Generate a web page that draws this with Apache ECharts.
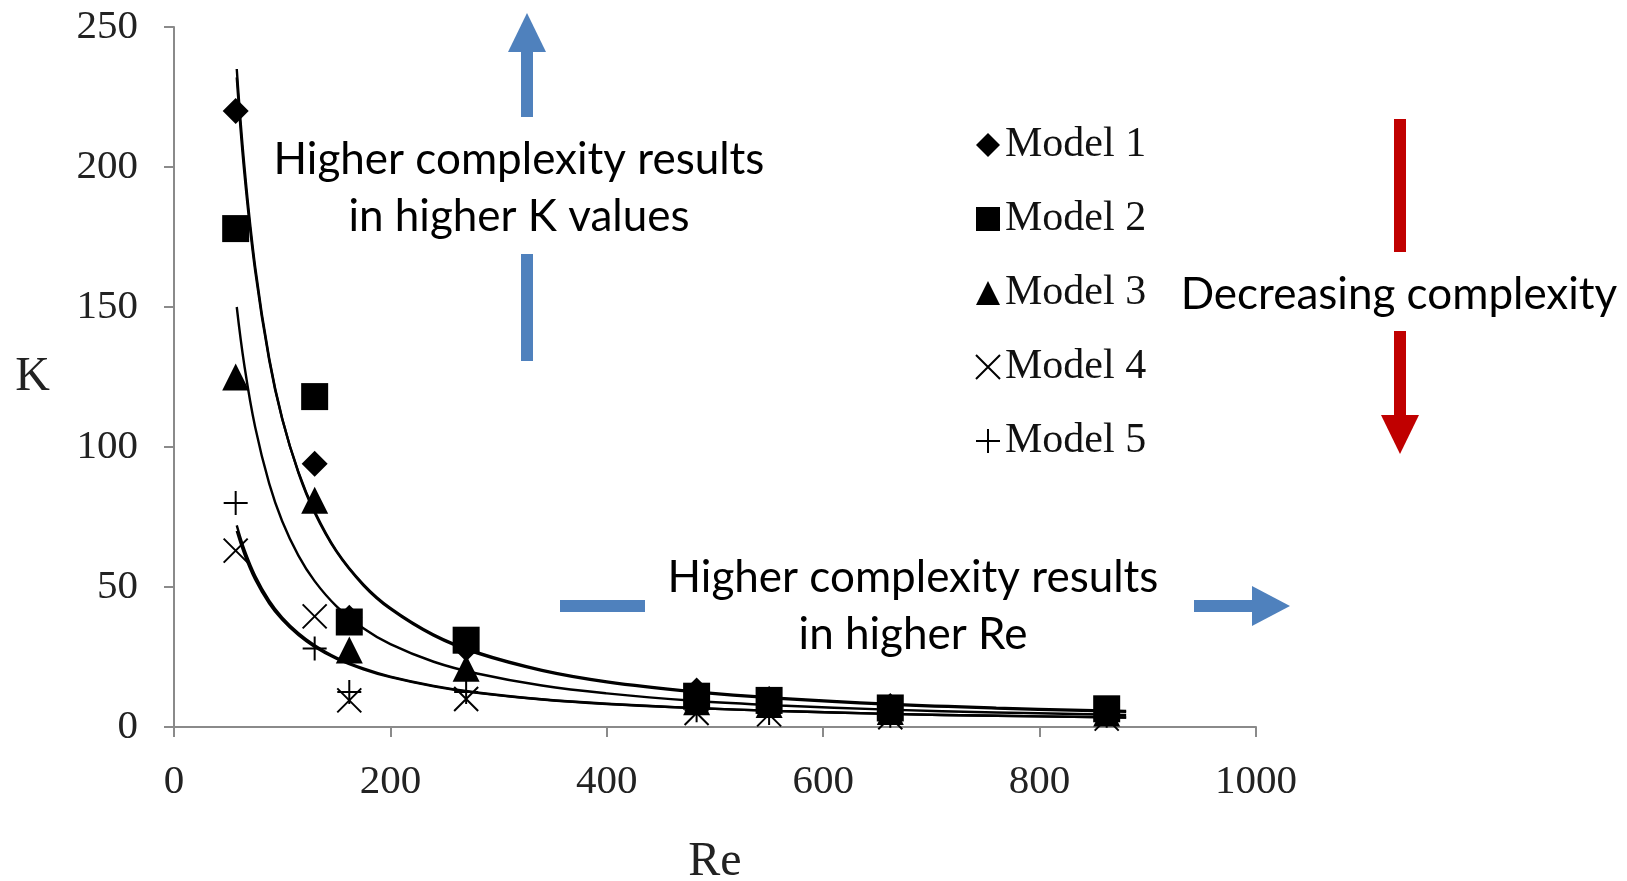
<!DOCTYPE html>
<html>
<head>
<meta charset="utf-8">
<title>K vs Re</title>
<script src="https://cdn.jsdelivr.net/npm/echarts@6/dist/echarts.min.js"></script>
<style>
    html, body { margin: 0; padding: 0; background: #fff; }
    #chart { width: 1627px; height: 881px; }
</style>
</head>
<body>
<div id="chart"></div>
<script>
// measured points (Re, K) per model
const reValues = [57, 130, 162, 270, 483, 550, 662, 862]
const model1 = [220, 94, 39, 28, 13, 10, 7.5, 6]
const model2 = [178, 118, 37.5, 31, 11, 9.5, 6.8, 6.5]
const model3 = [125, 81, 27.5, 21, 9, 8, 5.5, 5]
const model4 = [63, 39.5, 9.5, 10, 5, 4.5, 3.5, 3]
const model5 = [80, 28, 12.5, 12.5, 6, 5, 4, 4]

// trend curves
const fitRe = [58, 65, 75, 88, 100, 115, 130, 150, 175, 200, 240, 280, 340, 400, 480, 560, 660, 760, 880]
const fit1 = [235, 200.6, 164.4, 131.6, 110.2, 90.8, 76.5, 62.7, 50.6, 42.1, 32.6, 26.3, 20.1, 16.0, 12.5, 10.1, 8.0, 6.6, 5.4]
const fit2 = [232, 198, 163, 131, 110, 91, 77, 63, 51, 42.5, 33, 26.7, 20.4, 16.3, 12.8, 10.4, 8.3, 6.9, 5.7]
const fit3 = [150, 129.2, 107.1, 86.9, 73.5, 61.2, 52.1, 43.2, 35.3, 29.6, 23.3, 19.1, 14.8, 12.0, 9.4, 7.7, 6.2, 5.2, 4.3]
const fit4 = [70, 61.8, 52.7, 44.1, 38.3, 32.8, 28.6, 24.4, 20.6, 17.8, 14.5, 12.2, 9.8, 8.2, 6.8, 5.7, 4.7, 4.0, 3.4]
const fit5 = [72, 63.4, 54.0, 45.1, 39.1, 33.5, 29.2, 24.8, 20.9, 18.0, 14.7, 12.3, 9.9, 8.3, 6.8, 5.7, 4.7, 4.0, 3.4]

const modelNames = ['Model 1', 'Model 2', 'Model 3', 'Model 4', 'Model 5']

const serif = 'Liberation Serif, Times New Roman, serif'
const sans = 'Lato, Open Sans, sans-serif'
const blue = '#4f81bd'
const red = '#c00000'

const pairs = (xs, ys) => xs.map((x, i) => [x, ys[i]])

const crossPath = 'path://M0,0L20,20M20,0L0,20'
const plusPath = 'path://M10,0L10,20M0,10L20,10'

const markers = [
    { data: model1, symbol: 'diamond', size: 26 },
    { data: model2, symbol: 'rect', size: 27 },
    { data: model3, symbol: 'triangle', size: 27 },
    { data: model4, symbol: crossPath, size: 24, stroke: true },
    { data: model5, symbol: plusPath, size: 24, stroke: true }
]

const fits = [fit1, fit2, fit3, fit4, fit5]

let series = []
fits.forEach((f, i) => {
    series.push({
        name: 'fit ' + (i + 1),
        type: 'line',
        data: pairs(fitRe, f),
        smooth: 0.4,
        showSymbol: false,
        silent: true,
        z: 2,
        lineStyle: { color: '#000', width: 2.4 }
    })
})
markers.forEach((m, i) => {
    series.push({
        name: modelNames[i],
        type: 'scatter',
        data: pairs(reValues, m.data),
        symbol: m.symbol,
        symbolSize: m.size,
        z: 3,
        itemStyle: m.stroke
            ? { color: 'transparent', borderColor: '#000', borderWidth: 2, opacity: 1 }
            : { color: '#000', opacity: 1 }
    })
})

// blue / red arrows and the notes around them
const bar = (x, y, w, h, color) => ({ type: 'rect', shape: { x, y, width: w, height: h }, style: { fill: color } })
const head = (points, color) => ({ type: 'polygon', shape: { points }, style: { fill: color } })
const note = (x, y, text) => ({
    type: 'text', x, y,
    style: { text, font: '44px ' + sans, fill: '#000', textAlign: 'center', textVerticalAlign: 'middle' }
})

const graphics = [
    head([[527, 13], [508, 52], [546, 52]], blue),
    bar(521, 52, 12, 65, blue),
    bar(521, 254, 12, 107, blue),
    note(519, 160, 'Higher complexity results'),
    note(519, 217, 'in higher K values'),

    bar(560, 600, 85, 12, blue),
    bar(1194, 600, 58, 12, blue),
    head([[1252, 586], [1252, 626], [1290, 606]], blue),
    note(913, 578, 'Higher complexity results'),
    note(913, 635, 'in higher Re'),

    bar(1394, 119, 12, 133, red),
    bar(1394, 331, 12, 84, red),
    head([[1381, 415], [1419, 415], [1400, 454]], red),
    note(1399, 295, 'Decreasing complexity')
]

const chart = echarts.init(document.getElementById('chart'))
chart.setOption({
    animation: false,
    backgroundColor: '#fff',
    grid: { left: 174, right: 371, top: 27, bottom: 154, outerBoundsMode: 'none', containLabel: false },
    legend: {
        data: modelNames,
        orient: 'vertical',
        left: 970,
        top: 119,
        itemWidth: 24,
        itemHeight: 24,
        itemGap: 32,
        selectedMode: false,
        textStyle: { fontFamily: serif, fontSize: 42, color: '#111', lineHeight: 40 }
    },
    xAxis: {
        type: 'value',
        min: 0,
        max: 1000,
        interval: 200,
        name: 'Re',
        nameLocation: 'middle',
        nameGap: 111,
        nameTextStyle: { fontFamily: serif, fontSize: 48, color: '#222' },
        splitLine: { show: false },
        axisLine: { lineStyle: { color: '#8a8a8a', width: 2 } },
        axisTick: { length: 10, lineStyle: { color: '#8a8a8a', width: 2 } },
        axisLabel: { fontFamily: serif, fontSize: 41, color: '#222', margin: 35, formatter: v => String(v) }
    },
    yAxis: {
        type: 'value',
        min: 0,
        max: 250,
        interval: 50,
        name: 'K',
        nameLocation: 'middle',
        nameRotate: 0,
        nameGap: 124,
        nameTextStyle: { fontFamily: serif, fontSize: 48, color: '#222', padding: [0, 0, 50, 0] },
        splitLine: { show: false },
        axisLine: { show: true, lineStyle: { color: '#8a8a8a', width: 2 } },
        axisTick: { show: true, length: 10, lineStyle: { color: '#8a8a8a', width: 2 } },
        axisLabel: { fontFamily: serif, fontSize: 41, color: '#222', margin: 36 }
    },
    series: series,
    graphic: graphics
})
</script>
</body>
</html>
